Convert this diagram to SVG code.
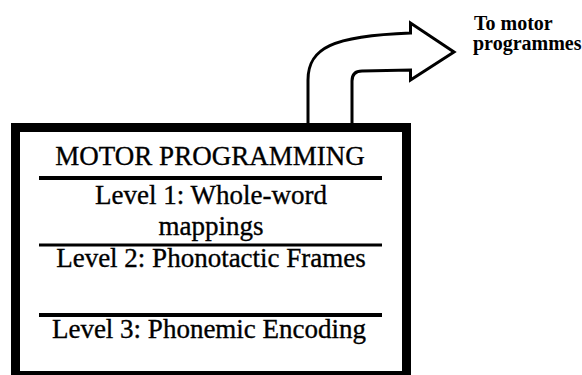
<svg xmlns="http://www.w3.org/2000/svg" width="582" height="375" viewBox="0 0 582 375">
  <style>
    .box { fill: #fff; stroke: #000; stroke-width: 9; }
    .rule { stroke: #000; }
    .level { font-size: 27px; fill: #000; stroke: #000; stroke-width: 0.35; text-anchor: middle; }
    .note { font-size: 20px; font-weight: bold; fill: #000; }
    .flow { fill: #fff; stroke: #000; stroke-width: 3; stroke-linejoin: miter; }
  </style>
  <rect width="582" height="375" fill="#fff"/>

  <!-- bent block arrow leaving the top of the box -->
  <g id="connectors">
    <path class="flow" d="M 308,128 L 308,80 C 308,48 332,36 410.5,33 L 410.5,23 L 454,52 L 410.5,80 L 410.5,70 L 362,71 Q 352,71 352,81 L 352,128 Z"/>
  </g>

  <g id="motor-programming" font-family="'Liberation Serif', 'DejaVu Serif', serif">
    <rect class="box" x="15.5" y="127.5" width="391" height="248"/>
    <text class="level" x="210" y="165">MOTOR PROGRAMMING</text>
    <line class="rule" x1="39" y1="178" x2="382" y2="178" stroke-width="4"/>
    <text class="level" x="211" y="204">Level 1: Whole-word</text>
    <text class="level" x="211" y="235">mappings</text>
    <line class="rule" x1="39" y1="245" x2="382" y2="245" stroke-width="3"/>
    <text class="level" x="211" y="267">Level 2: Phonotactic Frames</text>
    <line class="rule" x1="39" y1="315" x2="382" y2="315" stroke-width="4"/>
    <text class="level" x="209" y="338">Level 3: Phonemic Encoding</text>
  </g>

  <g id="motor-programmes-label" font-family="'Liberation Serif', 'DejaVu Serif', serif">
    <text class="note" x="474" y="30">To motor</text>
    <text class="note" x="473" y="50">programmes</text>
  </g>
</svg>
